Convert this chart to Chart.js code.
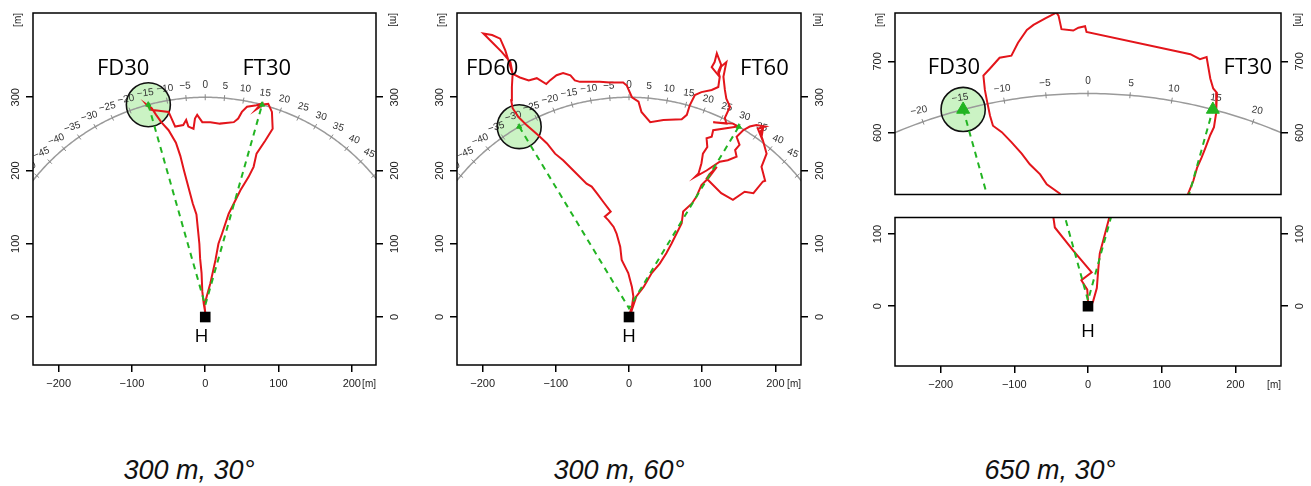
<!DOCTYPE html>
<html>
<head>
<meta charset="utf-8">
<script src="https://cdn.jsdelivr.net/npm/chart.js@4.4.1/dist/chart.umd.min.js"></script>
<style>
  body { margin: 0; background: #fff; width: 1311px; height: 486px; position: relative; overflow: hidden; }
  canvas { position: absolute; }
  .cap { position: absolute; top: 455px; width: 300px; text-align: center; line-height: 27px;
         font: italic 27px "Liberation Sans", Arial, sans-serif; color: #111; }
</style>
</head>
<body>
<canvas id="c1" width="406" height="397" style="left:0;top:0"></canvas>
<canvas id="c2" width="407" height="397" style="left:424px;top:0"></canvas>
<canvas id="c3" width="449" height="203" style="left:862px;top:0"></canvas>
<canvas id="c4" width="449" height="189" style="left:862px;top:209px"></canvas>
<div class="cap" style="left:39px">300 m, 30°</div>
<div class="cap" style="left:469px">300 m, 60°</div>
<div class="cap" style="left:900px">650 m, 30°</div>
<script>
/* ─────────────────────────────────────────
   DATA (metres, home point H at 0,0)
───────────────────────────────────────── */
const xTicks = [-200, -100, 0, 100, 200];
const yTicksMain = [0, 100, 200, 300];
const yTicksUpper = [600, 700];
const yTicksLower = [0, 100];
const arcDegrees = [-50, -45, -40, -35, -30, -25, -20, -15, -10, -5, 0, 5, 10, 15, 20, 25, 30, 35, 40, 45, 50];
const circleRadius = 30;

// targets (left = FD, right = FT)
const targets30 = [[-77.6, 289.8], [77.6, 289.8]];
const targets60 = [[-150, 259.8], [150, 259.8]];
const targets650 = [[-169.5, 632.7], [169.5, 632.7]];

// flown tracks
const track30 = [
    [0, 6], [-2, 18], [-4, 35], [-5, 60], [-7, 80], [-8, 100], [-10, 120], [-12, 140], [-17, 155],
    [-21, 170], [-25, 185], [-29, 200], [-34, 220], [-40, 238], [-50, 255], [-60, 266], [-67, 276],
    [-73, 285], [-80, 290], [-74, 283], [-66, 282], [-50, 280], [-41, 260], [-30, 262], [-26, 269],
    [-23, 260], [-16, 257], [-14, 271], [-11, 276], [-4, 266], [7, 266], [20, 264], [39, 266],
    [45, 271], [50, 280], [57, 287], [70, 289], [76, 291], [69, 283], [75, 287], [79, 290], [86, 291],
    [91, 280], [92, 257], [82, 241], [70, 223], [66, 205], [59, 191], [48, 173], [39, 155], [32, 141],
    [23, 114], [18, 100], [14, 78], [7, 46], [2, 28], [-1, 16], [0, 6]
];
const track60 = [
    [0, 3], [1, 5], [4, 14], [6, 28], [4, 41], [-1, 60], [-10, 78], [-12, 96], [-17, 114], [-21, 123],
    [-28, 132], [-33, 137], [-25, 144], [-35, 157], [-44, 169], [-51, 178], [-58, 182], [-76, 200],
    [-90, 214], [-101, 223], [-112, 237], [-124, 248], [-140, 262], [-151, 273], [-159, 285],
    [-161, 296], [-160, 314], [-159, 332], [-162, 348], [-174, 362], [-185, 373], [-199, 387],
    [-187, 385], [-176, 380], [-169, 364], [-165, 351], [-159, 332], [-149, 327], [-137, 323],
    [-126, 326], [-113, 318], [-108, 323], [-99, 330], [-90, 333], [-80, 330], [-74, 323], [-67, 321],
    [-53, 321], [-40, 321], [-26, 320], [-8, 320], [-3, 316], [4, 300], [13, 294], [17, 280], [29, 266],
    [47, 269], [72, 270], [79, 276], [83, 289], [90, 303], [99, 307], [113, 310], [122, 314], [124, 328],
    [122, 335], [126, 344], [120, 360], [117, 348], [113, 341], [122, 330], [126, 342], [133, 348],
    [129, 328], [131, 310], [133, 298], [138, 287], [131, 272], [133, 264],
    [115, 266], [142, 264], [149, 260], [115, 255], [113, 246], [106, 244], [107, 232], [101, 223],
    [99, 210], [95, 196], [90, 191], [106, 200], [124, 212], [135, 214], [147, 219], [145, 228],
    [151, 235], [147, 246], [156, 255], [165, 260], [174, 262], [186, 260], [176, 257], [181, 245],
    [183, 257], [179, 253], [183, 241], [188, 223], [181, 205], [186, 186], [183, 185], [170, 169],
    [158, 171], [142, 160], [126, 169], [106, 189], [110, 195], [120, 205], [108, 189], [99, 180],
    [92, 164], [86, 155], [74, 144], [72, 128], [65, 114], [58, 100], [51, 87], [42, 73], [31, 60],
    [20, 41], [10, 28], [4, 10], [2, 2]
];
const track650 = [
    [0, 0], [0, 7], [-1, 23], [-9, 36], [5, 47], [-20, 77], [-45, 109], [-47, 123], [-38, 515],
    [-56, 528], [-65, 542], [-79, 556], [-90, 571], [-104, 587], [-117, 601], [-129, 610], [-133, 624],
    [-137, 644], [-140, 660], [-142, 680], [-133, 690], [-120, 705], [-104, 708], [-95, 726], [-83, 744],
    [-74, 751], [-58, 760], [-43, 768], [-40, 764], [-36, 745], [-20, 743], [-13, 747], [-4, 749],
    [-2, 741], [139, 710], [152, 703], [161, 706], [166, 676], [170, 662], [175, 656], [174, 628],
    [171, 608], [166, 597], [159, 578], [154, 565], [148, 551], [143, 533], [136, 515], [29, 123],
    [23, 100], [16, 73], [14, 52], [12, 25], [7, 7], [4, 0]
];

/* ─────────────────────────────────────────
   STYLE
───────────────────────────────────────── */
const RED = '#e3151b';
const GREEN = '#22b422';
const tickFont = {family: '"Liberation Sans", Arial, sans-serif', size: 11};
const unitFont = {family: '"Liberation Sans", Arial, sans-serif', size: 10};
const fmt = v => String(v).replace('-', '\u2212');
const pts = a => a.map(([x, y]) => ({x, y}));

/* ─────────────────────────────────────────
   PLUGIN — arc, circle, labels, frame
───────────────────────────────────────── */
function decor(p) {
    return {
        id: 'decor',
        beforeDatasetsDraw(chart) {
            const {ctx, chartArea: a, scales: {x, y}} = chart;
            const px = v => x.getPixelForValue(v);
            const py = v => y.getPixelForValue(v);
            ctx.save();
            ctx.beginPath();
            ctx.rect(a.left, a.top, a.right - a.left, a.bottom - a.top);
            ctx.clip();

            const [cx, cy] = p.targets[0];
            const rad = Math.abs(px(circleRadius) - px(0));
            ctx.beginPath();
            ctx.arc(px(cx), py(cy), rad, 0, 2 * Math.PI);
            ctx.fillStyle = 'rgba(140,228,125,0.45)';
            ctx.fill();

            // distance arc
            ctx.beginPath();
            for (let d = -90; d <= 90; d += 0.5) {
                const t = d * Math.PI / 180;
                const X = px(p.arcR * Math.sin(t)), Y = py(p.arcR * Math.cos(t));
                if (d === -90) ctx.moveTo(X, Y); else ctx.lineTo(X, Y);
            }
            ctx.strokeStyle = '#9a9a9a';
            ctx.lineWidth = 1.5;
            ctx.stroke();

            ctx.font = '10px "Liberation Sans", Arial, sans-serif';
            ctx.textAlign = 'center';
            ctx.textBaseline = 'middle';
            arcDegrees.forEach(deg => {
                const t = deg * Math.PI / 180;
                const X = px(p.arcR * Math.sin(t)), Y = py(p.arcR * Math.cos(t));
                const ux = Math.sin(t), uy = -Math.cos(t);
                ctx.beginPath();
                ctx.moveTo(X - 3 * ux, Y - 3 * uy);
                ctx.lineTo(X + 3 * ux, Y + 3 * uy);
                ctx.strokeStyle = '#8a8a8a';
                ctx.lineWidth = 1;
                ctx.stroke();
                ctx.save();
                ctx.translate(X + 12 * ux, Y + 12 * uy);
                ctx.rotate(t * 0.5);
                ctx.fillStyle = '#333';
                ctx.fillText(fmt(deg), 0, 0);
                ctx.restore();
            });

            ctx.beginPath();
            ctx.arc(px(cx), py(cy), rad, 0, 2 * Math.PI);
            ctx.strokeStyle = '#111';
            ctx.lineWidth = 1.6;
            ctx.stroke();
            ctx.restore();
        },
        afterDatasetsDraw(chart) {
            const {ctx, chartArea: a, scales: {x, y}} = chart;
            ctx.save();
            ctx.fillStyle = '#000';
            ctx.textAlign = 'center';
            ctx.textBaseline = 'alphabetic';
            p.words.forEach(([txt, wx, wy, size]) => {
                ctx.font = size + 'px "Open Sans", sans-serif';
                ctx.fillText(txt, x.getPixelForValue(wx), y.getPixelForValue(wy));
            });
            ctx.strokeStyle = '#000';
            ctx.lineWidth = 1.5;
            ctx.strokeRect(a.left, a.top, a.right - a.left, a.bottom - a.top);
            ctx.restore();
        }
    };
}

/* ─────────────────────────────────────────
   PANEL BUILDER
───────────────────────────────────────── */
function yAxis(p, pos) {
    const left = pos === 'left';
    return {
        type: 'linear', position: pos, min: p.yMin, max: p.yMax,
        afterBuildTicks: s => { s.ticks = p.yTicks.map(v => ({value: v})); },
        afterFit: s => {
            s.width = left ? 33 : 30;
            s.paddingTop = 0; s.paddingBottom = 0;
        },
        grid: {drawOnChartArea: false, tickLength: 7, color: '#000', lineWidth: 1.5},
        border: {display: false},
        ticks: {minRotation: 90, maxRotation: 90, crossAlign: 'center', padding: left ? 1 : 3,
            autoSkip: false, font: tickFont, color: '#222', callback: v => fmt(v)},
        title: {display: p.yTitle, text: '[m]', align: 'end', font: unitFont, color: '#222',
            padding: {top: left ? 12 : 7, bottom: 0}}
    };
}

function buildPanel(p) {
    const tg = pts(p.targets);
    new Chart(document.getElementById(p.id), {
        type: 'scatter',
        data: {
            datasets: [
                {data: [{x: 0, y: 0}], pointStyle: 'rect', pointRadius: 7.5,
                    backgroundColor: '#000', borderColor: '#000', borderWidth: 0},
                {data: tg, pointStyle: 'triangle', pointRadius: p.tri,
                    backgroundColor: GREEN, borderColor: GREEN, borderWidth: 1},
                {data: [tg[0], {x: p.hub[0], y: p.hub[1]}, tg[1]], showLine: true, pointRadius: 0,
                    borderColor: GREEN, borderWidth: 2, borderDash: [6, 5]},
                {data: pts(p.track), showLine: true, pointRadius: 0, borderColor: RED, borderWidth: 2}
            ]
        },
        options: {
            responsive: false, animation: false, events: [],
            layout: {padding: {top: p.padTop, bottom: p.padBottom, left: 0, right: 0}},
            plugins: {legend: {display: false}, tooltip: {enabled: false}},
            scales: {
                x: {
                    type: 'linear', position: 'bottom', min: p.xMin, max: p.xMax, display: p.showX,
                    afterBuildTicks: s => { s.ticks = xTicks.map(v => ({value: v})); },
                    afterFit: s => {
                        s.height = p.showX ? 32 : 0;
                        s.paddingLeft = 0; s.paddingRight = 0;
                    },
                    grid: {drawOnChartArea: false, tickLength: 7, color: '#000', lineWidth: 1.5},
                    border: {display: false},
                    ticks: {padding: 5, maxRotation: 0, autoSkip: false, font: tickFont, color: '#222',
                        callback: v => fmt(v)},
                    title: {display: true, text: '[m]', align: 'end', font: unitFont, color: '#222',
                        padding: {top: 0, bottom: 7}}
                },
                y: yAxis(p, 'left'),
                y2: yAxis(p, 'right')
            }
        },
        plugins: [decor(p)]
    });
}

/* ─────────────────────────────────────────
   PANELS
───────────────────────────────────────── */
buildPanel({
    id: 'c1', track: track30, targets: targets30, hub: [0, 16], arcR: 300, tri: 3,
    xMin: -235, xMax: 233, yMin: -65.5, yMax: 415, yTicks: yTicksMain,
    showX: true, yTitle: true, padTop: 13, padBottom: 0,
    words: [['FD30', -112, 330, 22], ['FT30', 84, 330, 22], ['H', -5, -34, 19]]
});
buildPanel({
    id: 'c2', track: track60, targets: targets60, hub: [0, 12], arcR: 300, tri: 3,
    xMin: -235, xMax: 235, yMin: -65.5, yMax: 415, yTicks: yTicksMain,
    showX: true, yTitle: true, padTop: 13, padBottom: 0,
    words: [['FD60', -187, 330, 22], ['FT60', 185, 330, 22], ['H', 0, -34, 19]]
});
buildPanel({
    id: 'c3', track: track650, targets: targets650, hub: [0, 8], arcR: 655, tri: 7.5,
    xMin: -262, xMax: 262, yMin: 513.8, yMax: 767.6, yTicks: yTicksUpper,
    showX: false, yTitle: true, padTop: 13, padBottom: 4,
    words: [['FD30', -182, 683, 22], ['FT30', 217, 683, 22]]
});
buildPanel({
    id: 'c4', track: track650, targets: targets650, hub: [0, 8], arcR: 655, tri: 7.5,
    xMin: -262, xMax: 262, yMin: -82.8, yMax: 122.8, yTicks: yTicksLower,
    showX: true, yTitle: false, padTop: 6, padBottom: 0,
    words: [['H', 0, -43, 19]]
});
</script>
</body>
</html>
